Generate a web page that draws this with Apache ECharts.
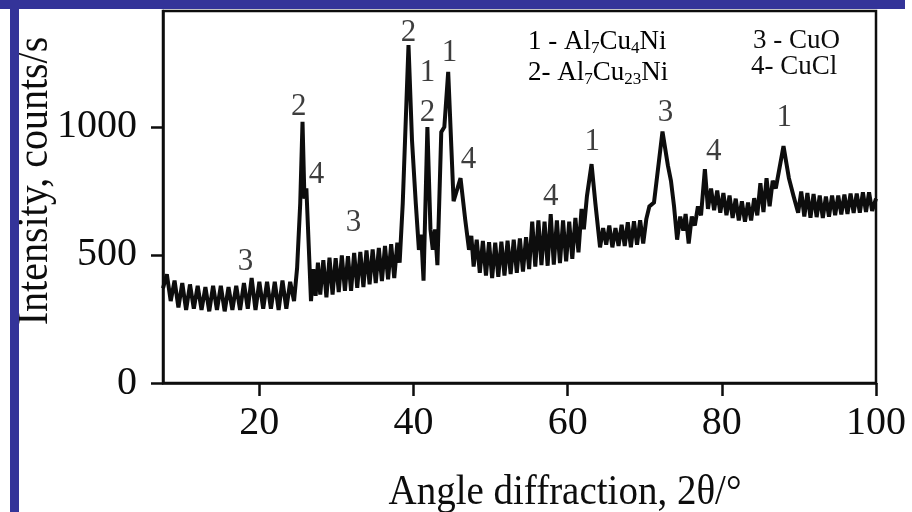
<!DOCTYPE html>
<html>
<head>
<meta charset="utf-8">
<script src="https://cdn.jsdelivr.net/npm/echarts@6/dist/echarts.min.js"></script>
<style>
html,body{margin:0;padding:0;background:#fff;}
#chart{width:912px;height:512px;}
</style>
</head>
<body>
<div id="chart"></div>
<script>
// XRD pattern: [angle 2θ (°), intensity (counts/s)]
const xrdPattern = [
  [7.5,370],[8.0,425],[8.5,320],[9.0,400],[9.5,295],[10.0,390],[10.5,285],[11.0,385],[11.5,290],[12.0,380],
  [12.5,285],[13.0,375],[13.5,280],[14.0,380],[14.5,285],[15.0,380],[15.5,280],[16.0,375],[16.5,285],[17.0,380],
  [17.5,285],[18.0,390],[18.5,290],[19.0,410],[19.5,285],[20.0,395],[20.5,290],[21.0,395],[21.5,290],[22.0,395],
  [22.5,285],[23.0,400],[23.5,290],[24.0,395],[24.5,320],
  [24.9,450],[25.3,700],[25.6,1020],[25.85,720],[26.1,760],[26.4,540],[26.7,320],[27.0,445],[27.3,340],[27.6,470],[27.9,345],
  [28.3,480],[28.7,335],[29.1,490],[29.5,345],[29.9,488],[30.3,355],[30.7,498],[31.1,360],[31.5,495],[31.9,360],
  [32.3,508],[32.7,372],[33.1,512],[33.5,375],[33.9,518],[34.3,385],[34.7,522],[35.1,390],[35.5,528],[35.9,398],
  [36.3,535],[36.7,405],[37.1,542],[37.5,410],[37.9,548],[38.2,470],
  [38.6,700],[39.35,1320],[39.8,950],[40.3,700],[40.7,520],[41.0,580],[41.3,400],[41.8,1000],[42.2,600],[42.5,520],
  [42.8,600],[43.1,460],[43.6,980],[44.0,1000],[44.5,1215],[45.2,710],[45.6,750],[46.1,800],[46.7,640],[47.2,520],
  [47.5,575],[47.8,455],
  [48.2,560],[48.6,430],[49.0,555],[49.4,420],[49.8,550],[50.2,410],[50.6,548],[51.0,415],[51.4,552],[51.8,420],
  [52.2,556],[52.6,425],[53.0,560],[53.4,430],[53.8,565],[54.2,435],[54.6,570],[55.0,445],
  [55.4,630],[55.8,455],[56.2,635],[56.6,460],[57.0,630],[57.4,458],[57.8,660],[58.2,462],[58.6,635],[59.0,468],
  [59.4,635],[59.8,475],[60.2,630],[60.6,485],[61.0,645],[61.4,510],[61.8,680],[62.1,600],[62.5,730],[63.1,855],
  [63.6,700],[64.2,530],
  [64.6,605],[65.0,540],[65.4,615],[65.8,530],[66.2,605],[66.6,535],[67.0,618],[67.4,535],[67.8,628],[68.2,530],
  [68.6,632],[69.0,540],[69.4,636],[69.8,545],[70.2,640],[70.6,690],[71.2,705],[72.3,982],[73.0,850],[73.4,790],
  [73.8,690],[74.2,560],[74.6,650],[75.0,595],[75.3,660],[75.7,545],[76.1,650],[76.5,615],[76.9,690],[77.3,655],
  [77.8,835],
  [78.2,680],[78.6,760],[79.0,675],[79.4,752],[79.8,665],[80.2,742],[80.6,655],[81.0,732],[81.4,645],[81.8,720],
  [82.2,635],[82.6,710],[83.0,630],[83.4,705],[83.8,635],[84.2,722],[84.6,655],[85.0,780],[85.4,668],[85.8,800],
  [86.2,690],[86.6,790],[87.0,760],[88.0,925],[88.7,800],[89.3,730],[89.9,665],
  [90.3,748],[90.7,650],[91.1,742],[91.5,645],[91.9,738],[92.3,648],[92.7,732],[93.1,645],[93.5,728],[93.9,650],
  [94.3,732],[94.7,655],[95.1,732],[95.5,658],[95.9,736],[96.3,660],[96.7,740],[97.1,664],[97.5,740],[97.9,665],
  [98.3,745],[98.7,668],[99.1,745],[99.5,672],[100.0,720]
];

// Phase labels over peaks: [angle, intensity, phase number]
const peakLabels = [
  [18.2,473,'3'],[25.1,1078,'2'],[27.4,812,'4'],[32.2,625,'3'],[39.35,1367,'2'],
  [41.82,1211,'1'],[41.82,1055,'2'],[44.68,1289,'1'],[47.14,871,'4'],[57.79,727,'4'],
  [63.2,941,'1'],[72.7,1055,'3'],[78.96,902,'4'],[88.1,1035,'1']
];

const xTicks = [20, 40, 60, 80, 100];
const yTicks = [0, 500, 1000];
const xRange = [7.5, 100];
const yRange = [0, 1453];

const xTitle = 'Angle diffraction, 2θ/°';
const yTitle = 'Intensity, counts/s';

const SERIF = '"Liberation Serif", "Times New Roman", serif';
const INK = '#0d0d0d';

const chart = echarts.init(document.getElementById('chart'), null, {renderer: 'canvas'});

const legendRich = {
  n: {fontSize: 27, fontFamily: SERIF, color: INK, lineHeight: 30},
  s: {fontSize: 17, fontFamily: SERIF, color: INK, lineHeight: 17, verticalAlign: 'bottom'}
};

chart.setOption({
  animation: false,
  backgroundColor: '#fff',
  grid: {left: 163, right: 36, top: 11, bottom: 129, show: true, borderColor: INK, borderWidth: 2.5, backgroundColor: 'transparent'},
  xAxis: {
    type: 'value', min: xRange[0], max: xRange[1],
    splitLine: {show: false},
    axisLine: {show: true, lineStyle: {color: INK, width: 2.5}},
    axisTick: {show: true, inside: false, length: 13, lineStyle: {color: INK, width: 2.5}, customValues: xTicks},
    axisLabel: {show: true, margin: 20, fontSize: 40, fontFamily: SERIF, color: INK, customValues: xTicks,
      formatter: v => String(v)}
  },
  yAxis: {
    type: 'value', min: yRange[0], max: yRange[1],
    splitLine: {show: false},
    axisLine: {show: true, lineStyle: {color: INK, width: 2.5}},
    axisTick: {show: true, inside: false, length: 12, lineStyle: {color: INK, width: 2.5}, customValues: yTicks},
    axisLabel: {show: true, margin: 26, fontSize: 40, fontFamily: SERIF, color: INK, customValues: yTicks,
      formatter: v => String(v)}
  },
  graphic: [
    {type: 'rect', shape: {x: 0, y: 0, width: 905, height: 9}, style: {fill: '#343499'}, z: 100},
    {type: 'rect', shape: {x: 10, y: 0, width: 9, height: 512}, style: {fill: '#343499'}, z: 100},
    {type: 'text', x: 565, y: 493, scaleY: 1.1, style: {text: xTitle, font: '39px ' + SERIF, fill: INK, align: 'center', verticalAlign: 'middle'}},
    {type: 'text', x: 35, y: 181, rotation: Math.PI / 2, scaleY: 1.1, style: {text: yTitle, font: '40px ' + SERIF, fill: INK, align: 'center', verticalAlign: 'middle'}},
    {type: 'text', x: 528, y: 42, style: {text: '{n|1 - Al}{s|7}{n|Cu}{s|4}{n|Ni}', rich: legendRich, verticalAlign: 'middle', align: 'left'}},
    {type: 'text', x: 528, y: 73, style: {text: '{n|2- Al}{s|7}{n|Cu}{s|23}{n|Ni}', rich: legendRich, verticalAlign: 'middle', align: 'left'}},
    {type: 'text', x: 753, y: 41, style: {text: '3 - CuO', font: '27px ' + SERIF, fill: INK, verticalAlign: 'middle', align: 'left'}},
    {type: 'text', x: 751, y: 67, style: {text: '4- CuCl', font: '27px ' + SERIF, fill: INK, verticalAlign: 'middle', align: 'left'}}
  ],
  series: [
    {
      type: 'line',
      data: xrdPattern,
      showSymbol: false,
      symbol: 'none',
      lineStyle: {color: INK, width: 4, join: 'miter', miterLimit: 3},
      z: 3
    },
    {
      type: 'scatter',
      data: peakLabels.map(p => ({value: [p[0], p[1]], name: p[2]})),
      symbolSize: 0,
      label: {show: true, position: 'inside', formatter: '{b}', fontSize: 31, fontFamily: SERIF, color: INK},
      z: 4
    }
  ]
});
</script>
</body>
</html>
